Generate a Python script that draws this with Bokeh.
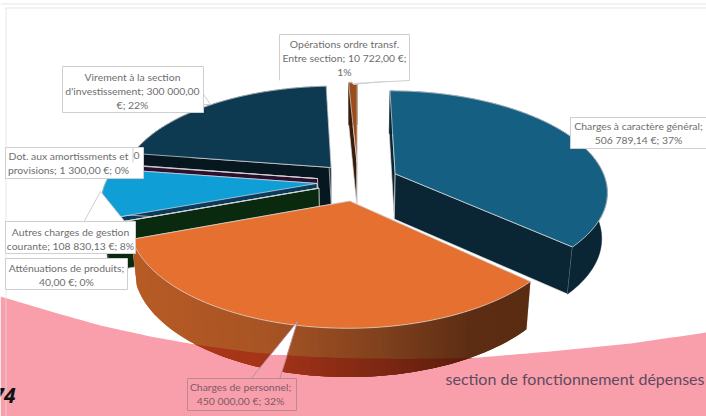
import numpy as np
from bokeh.plotting import figure
from bokeh.models import Range1d
from bokeh.core.properties import value as fontval
from bokeh.embed import file_html
from bokeh.resources import INLINE

# ---- chart data ----
categories = ["Charges à caractère général", "Charges de personnel", "Atténuations de produits",
              "Autres charges de gestion courante", "Dot. aux amortissments et provisions",
              "Virement à la section d'investissement", "Opérations ordre transf. Entre section"]
values = [506789.14, 450000.00, 40.00, 108830.13, 1300.00, 300000.00, 10722.00]
top_colors = ["#156082", "#E5702F", "#196B24", "#0F9ED5", "#4A1A50", "#0D3A50", "#9C4D1E"]
wall_colors = ["#0A2533", "#8A4420", "#0A2A10", "#0B3A5A", "#2A0F2E", "#07171F", "#3A1A08"]
title_text = "section de fonctionnement dépenses"
corner_text = "74"

# pink background edge
pink_x = [0, 50, 100, 150, 200, 250, 300, 350, 400, 466, 550, 630, 706]
pink_y = [296, 311, 325, 336, 345, 352, 356, 358, 358.5, 358, 351, 343, 332]
PINK = "#F99FAC"

W, H = 706, 416
p = figure(width=W, height=H, x_range=Range1d(0, W), y_range=Range1d(H, 0),
           output_backend="svg", toolbar_location=None, min_border=0,
           outline_line_color=None, background_fill_color="white", border_fill_color="white")
p.axis.visible = False
p.grid.visible = False

# pink backdrop
xs = np.linspace(0, W, 141)
edge = np.interp(xs, pink_x, pink_y)
p.patch(list(xs) + [W, 0], list(edge) + [H, H], fill_color=PINK, line_color=None)

# frame lines
p.line([0, W], [3.5, 3.5], line_color="#E6E6E6", line_width=1)
p.line([5, W], [7.5, 7.5], line_color="#E6E6E6", line_width=1)
p.line([5.5, 5.5], [7.5, H], line_color="#DDDDDD", line_width=1, line_alpha=0.7)

# ---- projected pie ----
CX, CY, RX, RY, K, EXPL, DEPTH = 357.5, 181, 211, 99, 0.165, 0.195, 45.5

def project(u, v, bottom=False):
    u, v = np.asarray(u, float), np.asarray(v, float)
    s = 1 / (1 + K * v)
    x, y = RX * u * s, -RY * v * s
    if bottom:
        return CX + 0.977 * x, CY + y + DEPTH * (1 - 0.06 * v)
    return CX + x, CY + y

total = sum(values)
fractions = [v / total * 2 * np.pi for v in values]
starts = np.concatenate([[0], np.cumsum(fractions)[:-1]])

def slice_geom(i, n=60):
    t0, t1 = starts[i], starts[i] + fractions[i]
    mid = (t0 + t1) / 2
    du, dv = EXPL * np.sin(mid), EXPL * np.cos(mid)
    ts = np.linspace(t0, t1, max(int(n * (t1 - t0)) + 2, 3))
    return du, dv, ts

EDGE = "#DDDDDD"

def hexmul(a, b):
    ca = [int(a[i:i + 2], 16) for i in (1, 3, 5)]
    cb = [int(b[i:i + 2], 16) for i in (1, 3, 5)]
    return "#%02X%02X%02X" % tuple(int(x * y / 255) for x, y in zip(ca, cb))

def lerp_color(stops, f):
    pos = [s[0] for s in stops]
    chans = [np.interp(f, pos, [int(s[1][i:i + 2], 16) for s in stops]) for i in (1, 3, 5)]
    return "#%02X%02X%02X" % tuple(int(c) for c in chans)

def draw_slice(i):
    du, dv, ts = slice_geom(i)
    u, v = du + np.sin(ts), dv + np.cos(ts)
    tx, ty = project(u, v)
    bx, by = project(u, v, True)
    ax, ay = project(du, dv)
    abx, aby = project(du, dv, True)
    wall = wall_colors[i]
    # cut faces
    for k in (0, -1):
        p.patch([ax, tx[k], bx[k], abx], [ay, ty[k], by[k], aby], fill_color=wall,
                line_color=EDGE, line_width=0.7)
    # rim: each strip reaches under the next one so no seam shows
    if i == 1:
        stops = [(0, "#B85C26"), (0.35, "#A85424"), (0.62, "#82421E"), (0.85, "#5E2E14"), (1, "#5A2C12")]
        xl, yl, cl = [], [], []
        ovx, ovy, ovc = [], [], []
        last = len(ts) - 1
        for j in range(last):
            n = min(j + 2, last)
            f = (tx[-1] - tx[j]) / (tx[-1] - tx[0])
            f = float(np.clip(f, 0, 1))
            col = lerp_color(stops, f)
            xl.append([tx[j], tx[n], bx[n], bx[j]])
            yl.append([ty[j], ty[n], by[n], by[j]])
            cl.append(col)
            e0, e1 = np.interp([bx[j], bx[n]], pink_x, pink_y)
            top0, top1 = max(e0, ty[j]), max(e1, ty[n])
            if by[j] > e0 or by[n] > e1:
                ovx.append([bx[j], bx[n], bx[n], bx[j]])
                ovy.append([top0, top1, max(by[n], top1), max(by[j], top0)])
                ovc.append(hexmul(col, PINK))
        for a, b, c in zip(xl, yl, cl):
            p.patch(a, b, fill_color=c, line_color=None)
        for a, b, c in zip(ovx, ovy, ovc):
            p.patch(a, b, fill_color=c, line_color=None)
    else:
        p.patch(list(tx) + list(bx[::-1]), list(ty) + list(by[::-1]), fill_color=wall,
                line_color=wall, line_width=0.5)
    # top
    p.patch([ax] + list(tx), [ay] + list(ty), fill_color=top_colors[i], line_color=EDGE, line_width=0.7)

for idx in [6, 5, 4, 3, 2, 0, 1]:
    draw_slice(idx)

# ---- data labels ----
FONT = fontval("Lato")
TXT = "#6E6E6E"
BORDER = "#CFCFCF"

def box(x0, x1, y0, y1, fill="white", line=BORDER):
    p.patch([x0, x1, x1, x0], [y0, y0, y1, y1], fill_color=fill, line_color=line, line_width=1)

def wedge(xs_, ys_, fill="white", line=BORDER):
    p.patch(xs_, ys_, fill_color=fill, line_color=None)
    p.line(xs_, ys_, line_color=line, line_width=1)

def label(cx, ys, lines, color=TXT, size="10.4px"):
    p.text([cx] * len(lines), ys, text=lines, text_font=FONT, text_font_size=size,
           text_color=color, text_align="center", text_baseline="middle")

# Opérations
wedge([349, 353, 409], [78, 84, 78])
box(279, 409, 34, 80)
p.line([279, 409], [80, 80], line_color="white", line_width=1.5)
p.line([353, 409], [83, 80], line_color=BORDER, line_width=1)
label(344, [43, 57, 71], ["Opérations ordre transf.", "Entre section; 10 722,00 €;", "1%"])

# Virement
wedge([197, 210, 203], [85, 104, 104])
box(62, 203, 66, 112)
label(132, [76, 90, 104], ["Virement à la section", "d'investissement; 300 000,00", "€; 22%"])

# Charges à caractère général
box(570, 712, 117, 148)
label(638, [125, 139], ["Charges à caractère général;", "506 789,14 €; 37%"])

# Autres charges (leader wedge first)
wedge([83, 100, 125], [222, 191, 222])
box(5, 135, 221, 253)
label(70, [231, 245], ["Autres charges de gestion", "courante; 108 830,13 €; 8%"])

# Dot. aux amortissements
box(5, 143, 147, 178)
p.line([132.5, 132.5], [147, 162], line_color=BORDER, line_width=1)
label(68, [155, 169], ["Dot. aux amortissments et", "provisions; 1 300,00 €; 0%"])
label(136, [155], ["0"])

# Atténuations
box(5, 127, 258, 289)
label(66, [267, 281], ["Atténuations de produits;", "40,00 €; 0%"])

# Charges de personnel: leader is white above the pink edge and pink under it
ax_, ay_ = 297, 321
lx, rx_, by_ = 250, 279, 379
p.patch([ax_, lx, rx_], [ay_, by_, by_], fill_color="white", line_color=None)
ys_w = np.linspace(ay_, by_, 60)
lxs = ax_ + (lx - ax_) * (ys_w - ay_) / (by_ - ay_)
rxs = ax_ + (rx_ - ax_) * (ys_w - ay_) / (by_ - ay_)
mask = ys_w >= np.interp((lxs + rxs) / 2, pink_x, pink_y)
p.patch(list(lxs[mask]) + list(rxs[mask][::-1]), list(ys_w[mask]) + list(ys_w[mask][::-1]),
        fill_color=PINK, line_color=None)
PB = "#B98A96"
p.line([ax_, lx], [ay_, by_], line_color=PB, line_width=1)
p.line([ax_, rx_], [ay_, by_], line_color=PB, line_width=1)
box(187, 296, 378, 410, fill=PINK, line=PB)
label(240, [386, 400], ["Charges de personnel;", "450 000,00 €; 32%"], color="#7A5A66")

# title and corner text
p.text([445], [378], text=[title_text], text_font=fontval("Lato"), text_font_size="16px",
       text_color="#5E4A5E", text_align="left", text_baseline="middle")
p.text([15], [395], text=[corner_text], text_font=fontval("Noto Sans"), text_font_size="21px",
       text_font_style="bold italic", text_color="#111111", text_align="right", text_baseline="middle")

open("out.html", "w").write(file_html(p, INLINE))
